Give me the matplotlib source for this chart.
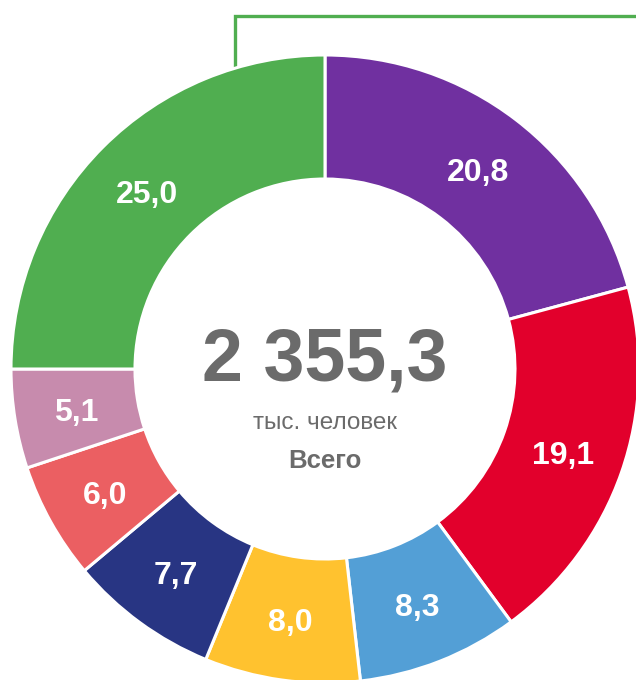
import numpy as np
import matplotlib.pyplot as plt

plt.rcParams['font.family'] = ['Liberation Sans', 'DejaVu Sans']

# данные
values = [20.8, 19.1, 8.3, 8.0, 7.7, 6.0, 5.1, 25.0]
labels = ['20,8', '19,1', '8,3', '8,0', '7,7', '6,0', '5,1', '25,0']
colors = ['#7030A0', '#E2002C', '#539FD6', '#FFC22F',
          '#283583', '#EB5F62', '#C78BAD', '#50AE50']
total_text = '2 355,3'
unit_text = 'тыс. человек'
caption_text = 'Всего'

W, H = 636, 680
fig = plt.figure(figsize=(W / 100, H / 100), dpi=100)
ax = fig.add_axes([0, 0, 1, 1])

cx, cy = 325, H - 369
r_out, r_in = 314, 190

wedges, texts = ax.pie(values, labels=labels, colors=colors, startangle=90,
                       counterclock=False, center=(cx, cy), radius=r_out,
                       labeldistance=(r_out + r_in) / 2 / r_out,
                       wedgeprops=dict(width=r_out - r_in, edgecolor='white', linewidth=2.2),
                       textprops=dict(color='white', fontsize=23, fontweight='bold',
                                      ha='center', va='center'))
for t in texts:
    x, y = t.get_position()
    t.set_position((x, y - 4))

# центр
gray = '#6b6b6b'
ax.text(cx, H - 361, total_text, ha='center', va='center', fontsize=53,
        fontweight='bold', color=gray)
ax.text(cx, H - 423, unit_text, ha='center', va='center', fontsize=17.5, color=gray)
ax.text(cx, H - 461, caption_text, ha='center', va='center', fontsize=18.5,
        fontweight='bold', color=gray)

# выноска от зелёного сектора
lx = 235
ly = cy + np.sqrt(r_out ** 2 - (lx - cx) ** 2)
ax.plot([lx, lx, W], [ly - 2, H - 16, H - 16], color=colors[-1], lw=2.4,
        solid_joinstyle='miter', zorder=0)

ax.set_xlim(0, W)
ax.set_ylim(0, H)
ax.set_aspect('equal')
ax.axis('off')

plt.savefig('out.png', dpi=100)
